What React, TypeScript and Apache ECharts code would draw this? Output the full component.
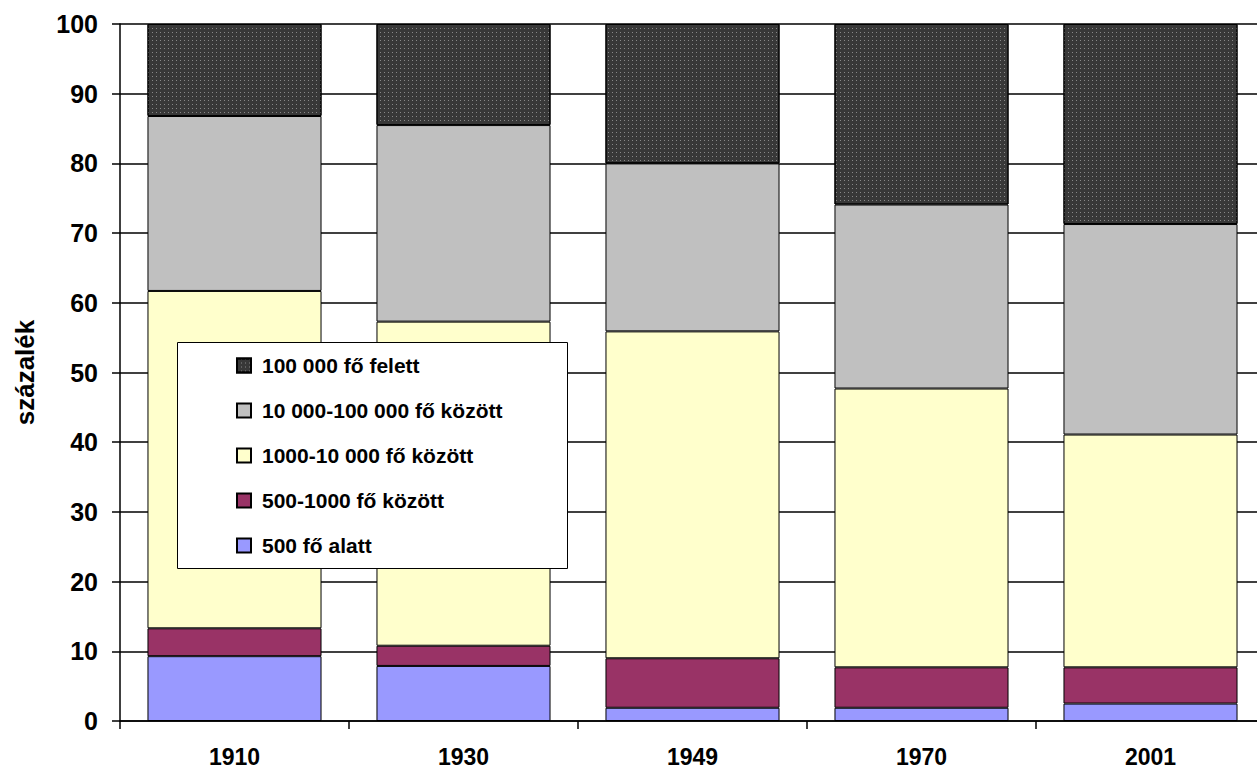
import React, { useEffect, useRef } from "react";
import * as echarts from "echarts";

const categories = ["1910", "1930", "1949", "1970", "2001"];
const seriesNames = [
  "500 fő alatt",
  "500-1000 fő között",
  "1000-10 000 fő között",
  "10 000-100 000 fő között",
  "100 000 fő felett",
];
const under500 = [9.3, 7.9, 1.9, 1.9, 2.5];
const from500to1000 = [4.0, 2.9, 7.1, 5.8, 5.2];
const from1000to10000 = [48.4, 46.5, 46.9, 40.0, 33.4];
const from10000to100000 = [25.1, 28.2, 24.1, 26.4, 30.2];
const over100000 = [13.2, 14.5, 20.0, 25.9, 28.7];
const yAxisName = "százalék";

const FONT = "Arial, 'Liberation Sans', sans-serif";

export default function App() {
  const ref = useRef<HTMLDivElement>(null);
  useEffect(() => {
    if (!ref.current) return;
    const chart = echarts.init(ref.current, undefined, { renderer: "svg" });
    const values = [under500, from500to1000, from1000to10000, from10000to100000, over100000];
    const colors = ["#9999ff", "#993366", "#ffffcc", "#c0c0c0", "#383838"];
    const series = values.map((v, i) => ({
      name: seriesNames[i],
      type: "bar",
      stack: "total",
      data: v,
      barCategoryGap: "24%",
      itemStyle: {
        color: colors[i],
        borderColor: "#000",
        borderWidth: 1,
        ...(i === 4
          ? {
              decal: {
                symbol: "rect",
                symbolSize: 1,
                color: "rgba(255,255,255,0.4)",
                dashArrayX: [1, 3],
                dashArrayY: [1, 3],
                rotation: 0,
              },
            }
          : {}),
      },
    }));
    chart.setOption({
      animation: false,
      backgroundColor: "#fff",
      grid: { left: 120, right: 15, top: 24, bottom: 59, containLabel: false, outerBoundsMode: "none" },
      legend: {
        orient: "vertical",
        left: 236,
        top: 355,
        padding: 0,
        z: 20,
        itemWidth: 14,
        itemHeight: 14,
        itemGap: 24,
        icon: "rect",
        data: seriesNames.slice().reverse(),
        textStyle: {
          fontFamily: FONT,
          fontWeight: "bold",
          fontSize: 21,
          color: "#000",
          padding: [0, 0, 0, 6],
        },
      },
      graphic: [
        {
          type: "rect",
          shape: { x: 177.5, y: 342.5, width: 390, height: 226 },
          style: { fill: "#fff", stroke: "#000", lineWidth: 1 },
          z: 5,
        },
      ],
      xAxis: {
        type: "category",
        data: categories,
        axisLine: { lineStyle: { color: "#000", width: 1.5 } },
        axisTick: { show: true, length: 8, lineStyle: { color: "#000", width: 1.5 } },
        axisLabel: {
          fontFamily: FONT,
          fontWeight: "bold",
          fontSize: 23,
          color: "#000",
          margin: 24,
        },
      },
      yAxis: {
        type: "value",
        min: 0,
        max: 100,
        interval: 10,
        name: yAxisName,
        nameLocation: "middle",
        nameGap: 82,
        nameTextStyle: {
          fontFamily: FONT,
          fontWeight: "bold",
          fontSize: 26,
          color: "#000",
        },
        axisLine: { show: true, lineStyle: { color: "#000", width: 1.5 } },
        axisTick: { show: true, length: 8, lineStyle: { color: "#000", width: 1.5 } },
        axisLabel: {
          fontFamily: FONT,
          fontWeight: "bold",
          fontSize: 25,
          color: "#000",
          margin: 22,
        },
        splitLine: { show: true, lineStyle: { color: "#000", width: 1.5 } },
      },
      series,
    });
    return () => chart.dispose();
  }, []);
  return (
    <div style={{ position: "fixed", left: 0, top: 0, width: 1257, height: 780, overflow: "hidden", background: "#fff" }}>
      <div ref={ref} style={{ width: 1280, height: 780 }} />
    </div>
  );
}
